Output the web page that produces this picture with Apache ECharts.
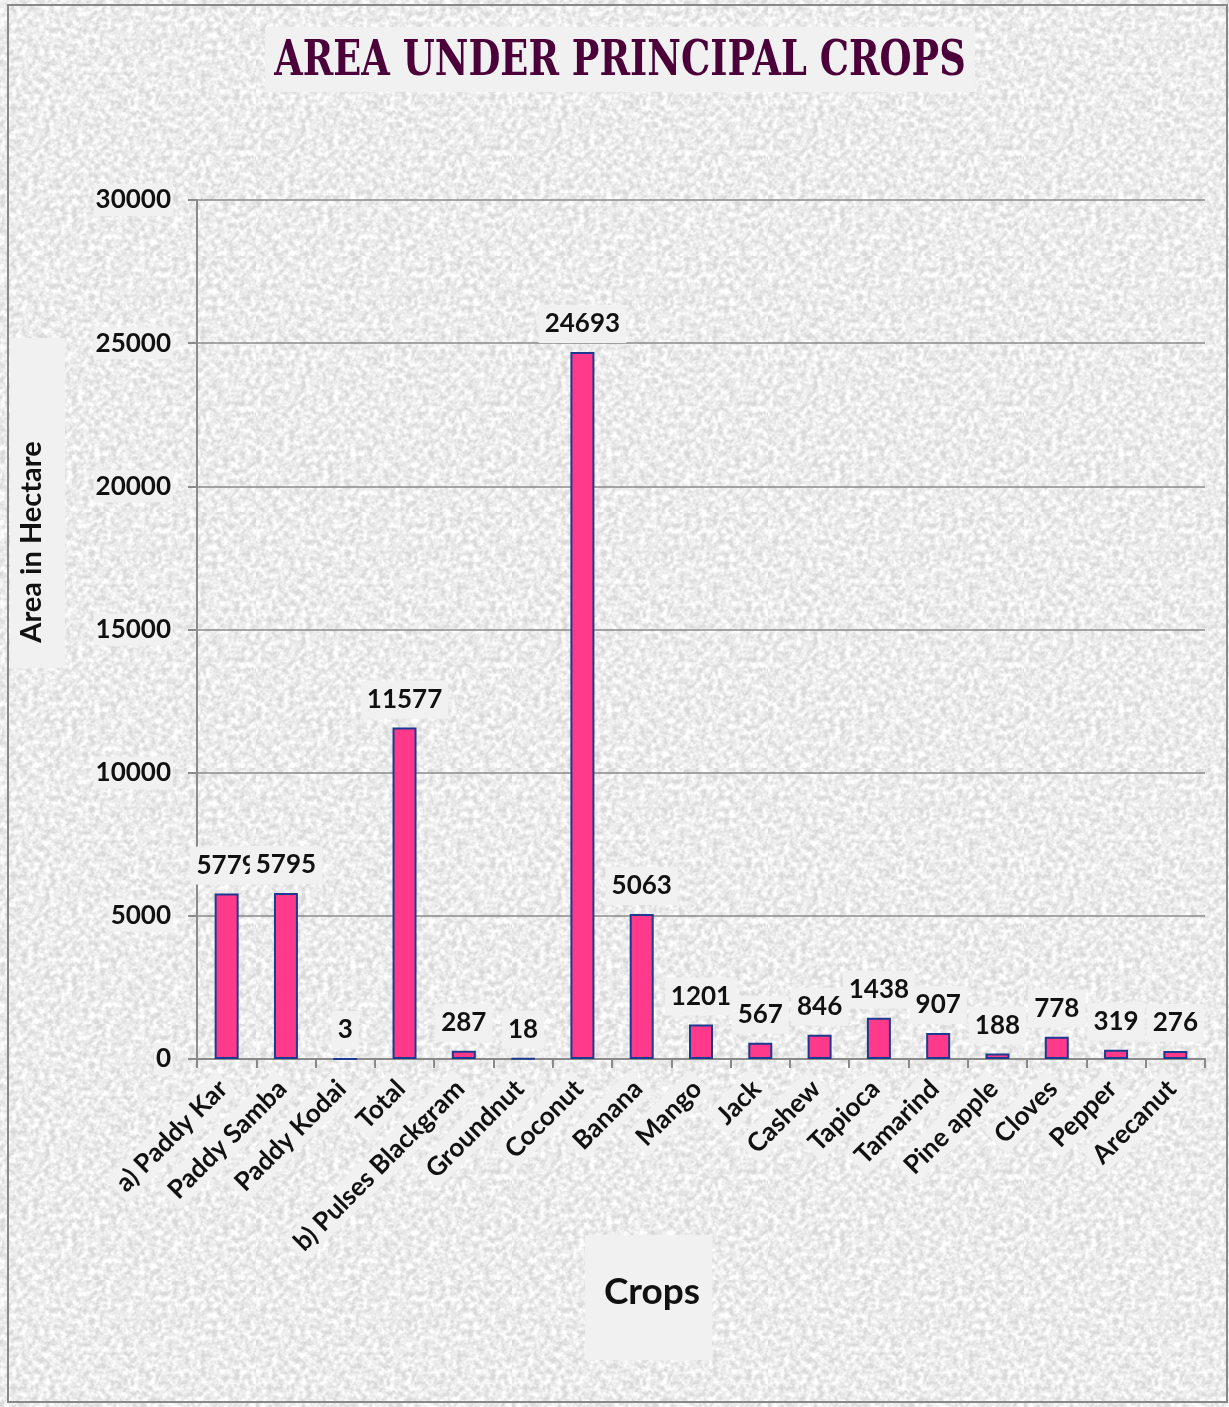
<!DOCTYPE html>
<html>
<head>
<meta charset="utf-8">
<script src="https://cdn.jsdelivr.net/npm/echarts@6/dist/echarts.min.js"></script>
<style>
html,body{margin:0;padding:0;}
#wrap{width:1229px;height:1407px;background-color:#d9d9d9;
background-image:url("data:image/svg+xml;utf8,<svg xmlns='http://www.w3.org/2000/svg' width='256' height='256'><filter id='n'><feTurbulence type='fractalNoise' baseFrequency='0.18' numOctaves='4' stitchTiles='stitch'/><feColorMatrix type='matrix' values='0 0 0 0 1  0 0 0 0 1  0 0 0 0 1  2.2 0 0 0 -0.6'/></filter><rect width='256' height='256' filter='url(%23n)'/></svg>");}
#chart{width:1229px;height:1407px;}
</style>
</head>
<body>
<div id="wrap"><div id="chart"></div></div>
<script>
const categories = ["a) Paddy Kar","Paddy Samba","Paddy Kodai","Total","b) Pulses Blackgram","Groundnut","Coconut","Banana","Mango","Jack","Cashew","Tapioca","Tamarind","Pine apple","Cloves","Pepper","Arecanut"];
const areaValues = [5779,5795,3,11577,287,18,24693,5063,1201,567,846,1438,907,188,778,319,276];
const yTicks = {min:0, max:30000, interval:5000};
const titleText = "AREA UNDER PRINCIPAL CROPS";
const yAxisTitle = "Area in Hectare";
const xAxisTitle = "Crops";

const chart = echarts.init(document.getElementById('chart'), null, {renderer:'canvas'});
const FONT = 'Lato';
const BOX = '#f1f1f1';
chart.setOption({
  backgroundColor: 'transparent',
  animation: false,
  grid: {left: 197, right: 24, top: 200, bottom: 348, containLabel: false},
  xAxis: {
    type: 'category',
    data: categories,
    axisLine: {show: true, lineStyle: {color: '#8a8a8a', width: 2}},
    axisTick: {show: true, length: 9, lineStyle: {color: '#8a8a8a', width: 2}},
    axisLabel: {
      interval: 0, rotate: 45, margin: 22,
      fontFamily: FONT, fontWeight: 'bold', fontSize: 26, color: '#111',
      backgroundColor: BOX, padding: [3, 5, 3, 5]
    }
  },
  yAxis: {
    type: 'value',
    min: yTicks.min, max: yTicks.max, interval: yTicks.interval,
    axisLine: {show: true, lineStyle: {color: '#8a8a8a', width: 2}},
    axisTick: {show: true, length: 9, lineStyle: {color: '#8a8a8a', width: 2}},
    splitLine: {show: true, lineStyle: {color: '#8a8a8a', width: 1.5}},
    axisLabel: {
      margin: 24, fontFamily: FONT, fontWeight: 'bold', fontSize: 26, color: '#111',
      formatter: v => String(v),
      backgroundColor: BOX, padding: [3, 2, 3, 2]
    }
  },
  series: [{
    type: 'bar',
    data: areaValues,
    barWidth: 24,
    itemStyle: {color: '#ff3a8b', borderColor: '#1c3a8f', borderWidth: 2},
    label: {
      show: true, position: 'top', distance: 9,
      fontFamily: FONT, fontWeight: 'bold', fontSize: 26, color: '#111',
      backgroundColor: BOX, padding: [6, 6, 6, 6]
    }
  }],
  graphic: [
    {type: 'rect', shape: {x: 8, y: 5, width: 1219, height: 1397}, style: {fill: 'none', stroke: '#888', lineWidth: 2}, silent: true, z: 0},
    {type: 'rect', shape: {x: 265, y: 27, width: 710, height: 65}, style: {fill: BOX}, silent: true, z: 1},
    {type: 'text', x: 620, y: 62, scaleX: 0.8, scaleY: 1.05, z: 2,
      style: {text: titleText, fontFamily: 'DejaVu Serif', fontWeight: 'bold', fontSize: 46, fill: '#4b0039',
        align: 'center', verticalAlign: 'middle'}},
    {type: 'rect', shape: {x: 10, y: 338, width: 55, height: 330}, style: {fill: BOX}, silent: true, z: 1},
    {type: 'text', x: 32, y: 542, rotation: Math.PI / 2, z: 2,
      style: {text: yAxisTitle, fontFamily: FONT, fontWeight: 'bold', fontSize: 29, fill: '#111',
        align: 'center', verticalAlign: 'middle'}},
    {type: 'rect', shape: {x: 585, y: 1235, width: 127, height: 125}, style: {fill: BOX}, silent: true, z: 1},
    {type: 'text', x: 652, y: 1292, z: 2,
      style: {text: xAxisTitle, fontFamily: FONT, fontWeight: 'bold', fontSize: 37, fill: '#111',
        align: 'center', verticalAlign: 'middle'}}
  ]
});
</script>
</body>
</html>
